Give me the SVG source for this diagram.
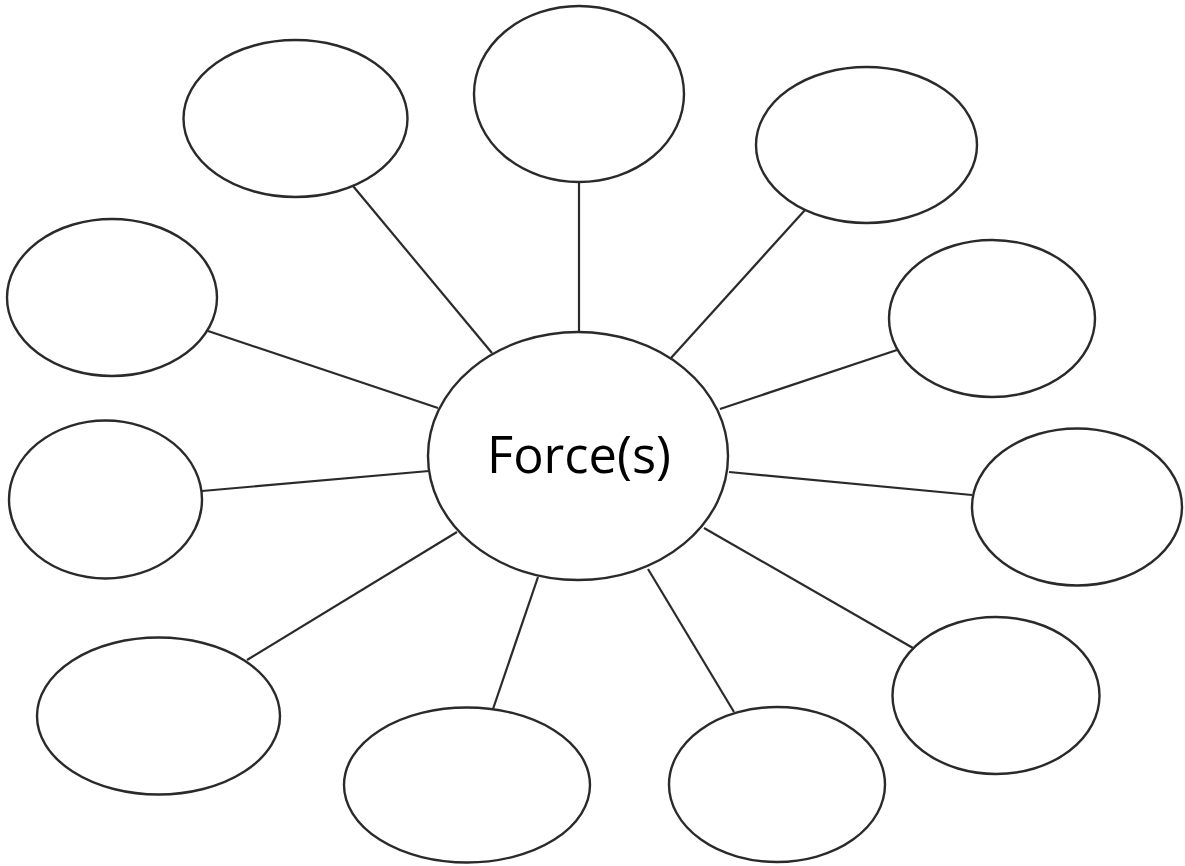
<svg xmlns="http://www.w3.org/2000/svg" width="1185" height="866" viewBox="0 0 1185 866">
  <style>
    .bubble { fill: #ffffff; stroke: #2a2a2a; stroke-width: 2.4; }
    .spoke { stroke: #2a2a2a; stroke-width: 2.2; fill: none; }
    .label { font-family: "Open Sans", "Noto Sans", sans-serif; font-size: 52px; fill: #000000; }
  </style>
  <rect width="1185" height="866" fill="#ffffff"/>

  <!-- spokes from the central bubble to each outer bubble -->
  <g id="connectors">
    <line class="spoke" x1="353" y1="186" x2="492" y2="353"/>
    <line class="spoke" x1="579" y1="182" x2="579" y2="332"/>
    <line class="spoke" x1="805" y1="210" x2="671" y2="358"/>
    <line class="spoke" x1="897" y1="350" x2="720" y2="409"/>
    <line class="spoke" x1="972" y1="495" x2="729" y2="472"/>
    <line class="spoke" x1="913" y1="648" x2="704" y2="528"/>
    <line class="spoke" x1="734" y1="712" x2="648" y2="569"/>
    <line class="spoke" x1="493" y1="709" x2="538" y2="577"/>
    <line class="spoke" x1="247" y1="660" x2="457" y2="532"/>
    <line class="spoke" x1="202" y1="491" x2="429" y2="471"/>
    <line class="spoke" x1="208" y1="331" x2="438" y2="408"/>
  </g>

  <g id="center">
    <ellipse class="bubble" cx="578" cy="456" rx="150" ry="124"/>
    <text class="label" x="579" y="473" text-anchor="middle" textLength="184" lengthAdjust="spacingAndGlyphs">Force(s)</text>
  </g>

  <g id="node-top-left"><ellipse class="bubble" cx="295.5" cy="118.5" rx="112" ry="78.5"/></g>
  <g id="node-top"><ellipse class="bubble" cx="579" cy="94" rx="105" ry="88"/></g>
  <g id="node-top-right"><ellipse class="bubble" cx="866.5" cy="145" rx="110.5" ry="78"/></g>
  <g id="node-right-upper"><ellipse class="bubble" cx="992" cy="318.5" rx="103" ry="78.5"/></g>
  <g id="node-right"><ellipse class="bubble" cx="1077" cy="507" rx="105" ry="78.5"/></g>
  <g id="node-right-lower"><ellipse class="bubble" cx="996" cy="695.5" rx="103.5" ry="78.5"/></g>
  <g id="node-bottom-right"><ellipse class="bubble" cx="777" cy="784.5" rx="108" ry="77.5"/></g>
  <g id="node-bottom"><ellipse class="bubble" cx="467" cy="785" rx="123" ry="77.5"/></g>
  <g id="node-bottom-left"><ellipse class="bubble" cx="158.5" cy="716" rx="121.5" ry="78.5"/></g>
  <g id="node-left"><ellipse class="bubble" cx="105.5" cy="499.5" rx="96.5" ry="79"/></g>
  <g id="node-left-upper"><ellipse class="bubble" cx="112" cy="297.5" rx="105" ry="78.5"/></g>
</svg>
